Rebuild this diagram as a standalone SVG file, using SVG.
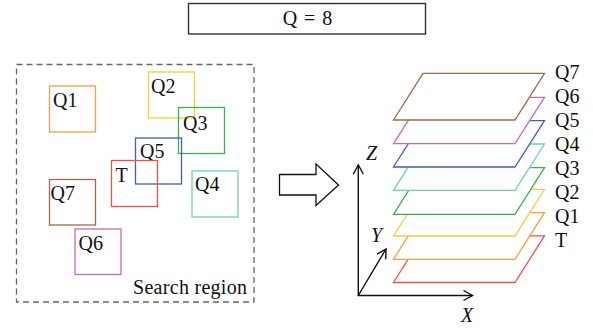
<svg xmlns="http://www.w3.org/2000/svg" width="593" height="330" viewBox="0 0 593 330" font-family="'Liberation Serif', 'Times New Roman', 'DejaVu Serif', serif">
<style>
text{font-family:'Liberation Serif','Times New Roman','DejaVu Serif',serif;fill:#111;font-size:20px}
.it{font-style:italic}
.sq{fill:none;stroke-width:1.3}
.pl{fill:#fff;stroke-width:1.3;stroke-linejoin:miter}
.ax{fill:none;stroke:#111;stroke-width:1.4}
</style>
<defs>
<marker id="ah" markerWidth="12" markerHeight="12" refX="10" refY="6" orient="auto" markerUnits="userSpaceOnUse">
<path d="M1,1 L10,6 L1,11" fill="none" stroke="#111" stroke-width="1.4"/>
</marker>
</defs>
<g id="title">
<rect x="188.5" y="3.5" width="237" height="30.5" fill="#fff" stroke="#333" stroke-width="1.4"/>
<text x="307.5" y="25" text-anchor="middle" font-size="18" word-spacing="2">Q = 8</text>
</g>
<g id="search-region">
<rect x="16.5" y="64.5" width="237.5" height="237.5" fill="none" stroke="#666" stroke-width="1.3" stroke-dasharray="6,4"/>
<text x="133" y="294" textLength="114" lengthAdjust="spacing">Search region</text>
</g>
<g id="left-Q1"><rect class="sq" x="49.5" y="86" width="46" height="46" stroke="#f4a040"/><text x="53" y="107">Q1</text></g>
<g id="left-Q2"><rect class="sq" x="148.5" y="72" width="46" height="46" stroke="#f5cc3a"/><text x="151" y="93">Q2</text></g>
<g id="left-Q3"><rect class="sq" x="178.5" y="107.5" width="46" height="46" stroke="#3ab055"/><text x="183" y="130">Q3</text></g>
<g id="left-Q5"><rect class="sq" x="135.5" y="138" width="46" height="46" stroke="#4060b0"/><text x="140" y="157.5">Q5</text></g>
<g id="left-T"><rect class="sq" x="111.5" y="160.5" width="46" height="46" stroke="#f0504a"/><text x="115.5" y="182">T</text></g>
<g id="left-Q4"><rect class="sq" x="192" y="171" width="46" height="46" stroke="#70d0b4"/><text x="195" y="191">Q4</text></g>
<g id="left-Q7"><rect class="sq" x="49.5" y="179.5" width="46" height="45.5" stroke="#a06848"/><text x="50.5" y="200">Q7</text></g>
<g id="left-Q6"><rect class="sq" x="75" y="229" width="46" height="45.5" stroke="#c868b8"/><text x="78.5" y="249.5">Q6</text></g>
<g id="arrow">
<path d="M279.5,174.5 H316 V164 L338.5,185 L316,205.5 V195 H279.5 Z" fill="#fff" stroke="#111" stroke-width="1.3" stroke-linejoin="miter"/>
</g>
<g id="connectors">
<line class="ax" x1="358.3" y1="295.5" x2="358.3" y2="165" marker-end="url(#ah)"/>
<line class="ax" x1="357.6" y1="295.5" x2="472.5" y2="295.5" marker-end="url(#ah)"/>
<line class="ax" x1="358.3" y1="295.5" x2="386" y2="249" marker-end="url(#ah)"/>
</g>
<g id="axis-labels">
<text class="it" x="366" y="160">Z</text>
<text class="it" x="371" y="242">Y</text>
<text class="it" x="461" y="322">X</text>
</g>
<g id="layer-T"><path class="pl" d="M393.5,282.5 L515,282.5 L544.5,235.8 L423,235.8 Z" stroke="#f0504a"/><text x="555" y="246.5">T</text></g>
<g id="layer-Q1"><path class="pl" d="M393.5,259.3 L515,259.3 L544.5,212.7 L423,212.7 Z" stroke="#f4a040"/><text x="555" y="222.5">Q1</text></g>
<g id="layer-Q2"><path class="pl" d="M393.5,236 L515,236 L544.5,189.3 L423,189.3 Z" stroke="#f5cc3a"/><text x="555" y="198.5">Q2</text></g>
<g id="layer-Q3"><path class="pl" d="M393.5,214.3 L515,214.3 L544.5,167.7 L423,167.7 Z" stroke="#3ab055"/><text x="555" y="174.5">Q3</text></g>
<g id="layer-Q4"><path class="pl" d="M393.5,190.3 L515,190.3 L544.5,144 L423,144 Z" stroke="#70d0b4"/><text x="555" y="150.5">Q4</text></g>
<g id="layer-Q5"><path class="pl" d="M393.5,167 L515,167 L544.5,120.7 L423,120.7 Z" stroke="#4060b0"/><text x="555" y="126.5">Q5</text></g>
<g id="layer-Q6"><path class="pl" d="M393.5,143.7 L515,143.7 L544.5,97.3 L423,97.3 Z" stroke="#c868b8"/><text x="555" y="102.5">Q6</text></g>
<g id="layer-Q7"><path class="pl" d="M393.5,120 L515,120 L544.5,73.3 L423,73.3 Z" stroke="#a06848"/><text x="555" y="78.5">Q7</text></g>
</svg>
